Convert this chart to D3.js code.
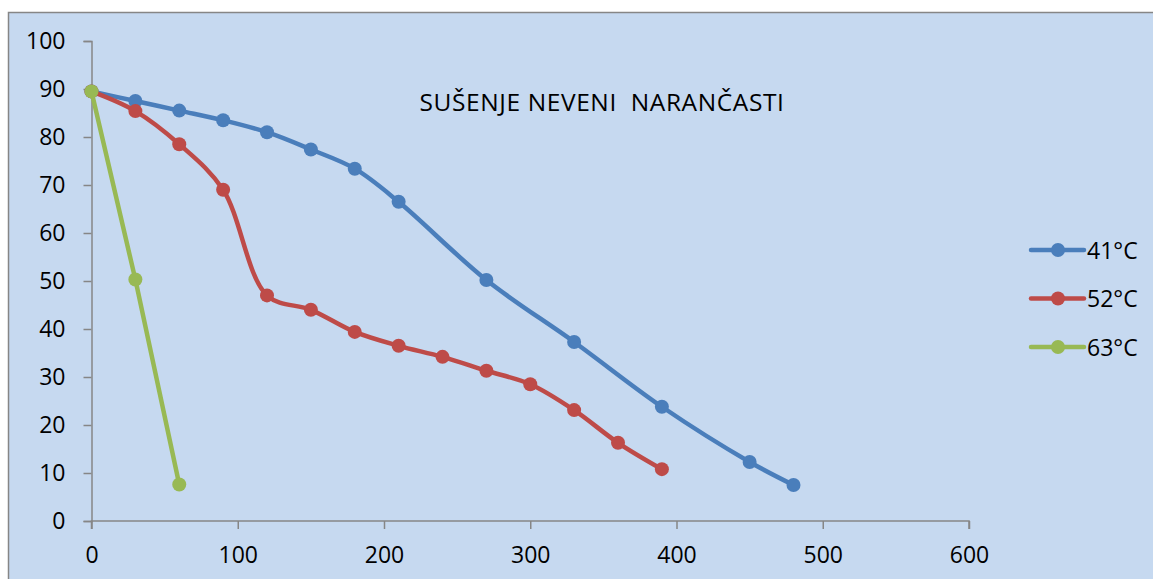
<!DOCTYPE html>
<html><head><meta charset="utf-8">
<script src="https://cdn.jsdelivr.net/npm/d3@7"></script>
<style>body{margin:0;background:#fff;}svg{display:block;}</style>
</head><body>
<svg id="c" width="1153" height="579"></svg>
<script>
const xTicks = [0,100,200,300,400,500,600];
const yTicks = [0,10,20,30,40,50,60,70,80,90,100];
const seriesNames = ["41°C","52°C","63°C"];
const seriesColors = ["#4a7ebb","#be4b48","#98b954"];
const x41 = [0,30,60,90,120,150,180,210,270,330,390,450,480];
const y41 = [89.5,87.5,85.5,83.5,81.0,77.4,73.4,66.5,50.2,37.3,23.8,12.3,7.5];
const x52 = [0,30,60,90,120,150,180,210,240,270,300,330,360,390];
const y52 = [89.5,85.4,78.5,69.0,47.0,44.0,39.4,36.5,34.2,31.3,28.5,23.1,16.3,10.8];
const x63 = [0,30,60];
const y63 = [89.5,50.3,7.6];
const title = "SUŠENJE NEVENI  NARANČASTI";

const svg = d3.select("#c");
const font = "Open Sans";
svg.append("rect").attr("x",8.5).attr("y",12.5).attr("width",1160).attr("height",600)
  .attr("fill","#c6d9f0").attr("stroke","#868686").attr("stroke-width",1.5);

const x = d3.scaleLinear().domain([0,600]).range([91.5,969]);
const y = d3.scaleLinear().domain([0,100]).range([521,41]);

const gy = svg.append("g").attr("transform",`translate(${x(0)},0)`)
  .call(d3.axisLeft(y).tickValues(yTicks).tickSize(8).tickPadding(18).tickFormat(d3.format("d")));
const gx = svg.append("g").attr("transform",`translate(0,${y(0)})`)
  .call(d3.axisBottom(x).tickValues(xTicks).tickSize(8).tickPadding(18).tickFormat(d3.format("d")));
[gx,gy].forEach(g=>{
  g.attr("font-family",font).attr("font-size",23);
  g.selectAll("path,line").attr("stroke","#868686").attr("stroke-width",1.5);
  g.selectAll("text").attr("fill","#000");
});
gx.select(".domain").attr("d",`M${x(0)},8V0H${x(600)}V8`);

svg.append("text").attr("x",602).attr("y",111).attr("text-anchor","middle")
  .attr("xml:space","preserve").style("white-space","pre")
  .attr("font-family",font).attr("font-size",24.5).attr("letter-spacing",0.6)
  .attr("fill","#000").text(title);

const data = [[x41,y41],[x52,y52],[x63,y63]];
const line = d3.line().x(d=>x(d[0])).y(d=>y(d[1])).curve(d3.curveCatmullRom.alpha(0.5));
data.forEach(([xs,ys],i)=>{
  const pts = xs.map((v,j)=>[v,ys[j]]);
  const c = seriesColors[i];
  svg.append("path").datum(pts).attr("d", i===2 ? d3.line().x(d=>x(d[0])).y(d=>y(d[1]))(pts) : line(pts))
    .attr("fill","none").attr("stroke",c).attr("stroke-width",4.5).attr("stroke-linecap","round");
  svg.append("g").selectAll("circle").data(pts).join("circle")
    .attr("cx",d=>x(d[0])).attr("cy",d=>y(d[1])).attr("r",7).attr("fill",c);
});

// legend
seriesNames.forEach((n,i)=>{
  const ly = 250 + i*48.5;
  const g = svg.append("g");
  g.append("line").attr("x1",1031).attr("x2",1084).attr("y1",ly).attr("y2",ly)
    .attr("stroke",seriesColors[i]).attr("stroke-width",4.5).attr("stroke-linecap","round");
  g.append("circle").attr("cx",1058).attr("cy",ly).attr("r",7).attr("fill",seriesColors[i]);
  g.append("text").attr("x",1087).attr("y",ly+8.5).attr("font-family",font).attr("font-size",23)
    .attr("fill","#000").text(n);
});
</script>
</body></html>
